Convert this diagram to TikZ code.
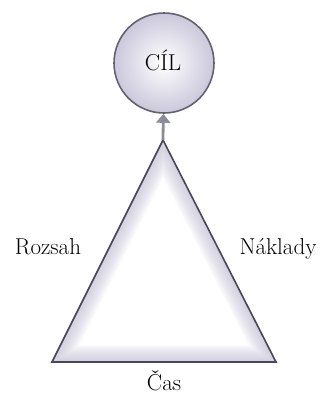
\documentclass[tikz,border=0pt]{standalone}
\usepackage{fontspec}
\usetikzlibrary{arrows.meta}

\definecolor{rim}{RGB}{72,70,88}
\definecolor{glow}{RGB}{190,186,210}
\definecolor{shaft}{RGB}{140,140,152}

\tikzset{
    goal/.style={circle, draw=rim!85!white, line width=1.6pt, minimum size=100pt,
        inner color=white, outer color=glow!80!white},
    link/.style={draw=shaft, line width=2.8pt,
        -{Triangle[length=9pt,width=14pt]}},
    tag/.style={font=\rmfamily\fontsize{23}{27}\selectfont, text=black}
}

\begin{document}
\begin{tikzpicture}[x=1pt,y=-1pt]
    \useasboundingbox (0,0) rectangle (320,399);

    % triangle corners
    \coordinate (top) at (163,140);
    \coordinate (left) at (52,362);
    \coordinate (right) at (276,362);

    % soft inner shade of the triangle
    \fill[white] (top) -- (left) -- (right) -- cycle;
    \begin{scope}
        \clip (top) -- (left) -- (right) -- cycle;
        \foreach \w in {2,4,...,34}
            \draw[line width=\w pt, draw=glow, opacity=0.05]
                (top) -- (left) -- (right) -- cycle;
    \end{scope}
    \draw[rim, line width=1.6pt, line join=miter]
        (top) -- (left) -- (right) -- cycle;

    \node[goal] (cil) at (164,63) {};
    \node[tag] at (163,60) {CÍL};

    \draw[link] (top) -- (cil);

    \node[tag] (rozsah) at (48,247) {Rozsah};
    \node[tag] (naklady) at (278,249) {Náklady};
    \node[tag] (cas) at (164,381) {Čas};
\end{tikzpicture}
\end{document}
